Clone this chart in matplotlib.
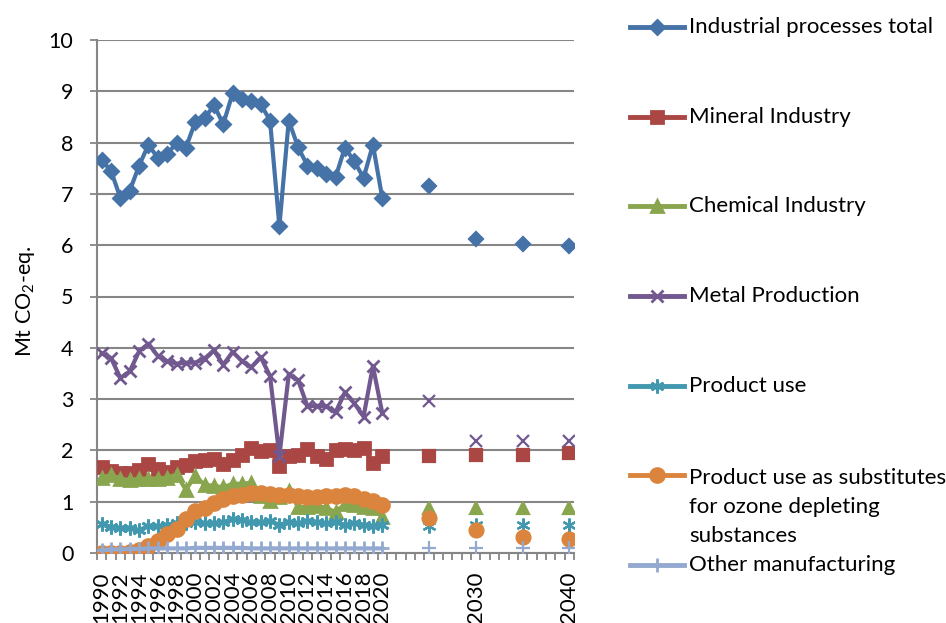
import numpy as np
import matplotlib.pyplot as plt
from matplotlib.lines import Line2D

plt.rcParams['font.family'] = ['Lato', 'DejaVu Sans']
plt.rcParams['mathtext.fontset'] = 'custom'
plt.rcParams['mathtext.rm'] = 'Lato'
plt.rcParams['mathtext.it'] = 'Lato:italic'

years = np.arange(1990, 2021)
proj_years = [2025, 2030, 2035, 2040]

total = [7.66, 7.45, 6.92, 7.06, 7.55, 7.96, 7.70, 7.78, 7.99, 7.90, 8.40,
         8.47, 8.73, 8.36, 8.96, 8.85, 8.82, 8.75, 8.43, 6.37, 8.43, 7.91,
         7.55, 7.50, 7.39, 7.32, 7.90, 7.64, 7.31, 7.96, 6.92]
total_proj = [7.15, 6.13, 6.02, 5.98]

mineral = [1.68, 1.60, 1.55, 1.55, 1.62, 1.73, 1.64, 1.58, 1.68, 1.71, 1.79,
           1.82, 1.84, 1.73, 1.81, 1.92, 2.04, 1.99, 2.00, 1.70, 1.90, 1.92,
           2.02, 1.90, 1.83, 2.00, 2.03, 2.00, 2.04, 1.76, 1.90]
mineral_proj = [1.90, 1.91, 1.92, 1.94]

chemical = [1.47, 1.52, 1.45, 1.42, 1.45, 1.45, 1.45, 1.47, 1.53, 1.23, 1.50,
            1.33, 1.31, 1.28, 1.35, 1.35, 1.37, 1.12, 1.02, 1.10, 1.20, 0.90,
            0.90, 0.92, 0.88, 0.80, 0.95, 0.93, 0.90, 0.88, 0.70]
chemical_proj = [0.88, 0.88, 0.88, 0.88]

metal = [3.89, 3.80, 3.41, 3.54, 3.93, 4.08, 3.84, 3.74, 3.69, 3.71, 3.71,
         3.79, 3.95, 3.67, 3.92, 3.74, 3.62, 3.82, 3.45, 1.89, 3.48, 3.37,
         2.86, 2.87, 2.86, 2.74, 3.13, 2.92, 2.66, 3.64, 2.73]
metal_proj = [2.97, 2.19, 2.19, 2.19]

product_use = [0.56, 0.51, 0.49, 0.49, 0.44, 0.53, 0.52, 0.55, 0.58, 0.58, 0.60,
               0.58, 0.58, 0.60, 0.66, 0.65, 0.60, 0.60, 0.62, 0.55, 0.60, 0.58,
               0.62, 0.60, 0.58, 0.60, 0.55, 0.58, 0.55, 0.52, 0.55]
product_use_proj = [0.53, 0.54, 0.54, 0.54]

ods = [0.00, 0.00, 0.00, 0.02, 0.06, 0.14, 0.23, 0.38, 0.46, 0.66, 0.82,
       0.88, 0.98, 1.05, 1.11, 1.14, 1.16, 1.16, 1.15, 1.14, 1.13, 1.12,
       1.10, 1.10, 1.11, 1.12, 1.14, 1.11, 1.05, 1.01, 0.93]
ods_proj = [0.69, 0.44, 0.31, 0.27]

other = [0.06, 0.07, 0.07, 0.08, 0.08, 0.09, 0.09, 0.09, 0.09, 0.09, 0.10,
         0.10, 0.10, 0.10, 0.10, 0.10, 0.09, 0.09, 0.09, 0.09, 0.09, 0.09,
         0.09, 0.09, 0.09, 0.09, 0.09, 0.09, 0.09, 0.09, 0.09]
other_proj = [0.09, 0.09, 0.09, 0.09]

labels = ['Industrial processes total', 'Mineral Industry', 'Chemical Industry',
          'Metal Production', 'Product use',
          'Product use as substitutes\nfor ozone depleting\nsubstances',
          'Other manufacturing']
colors = ['#4572A7', '#AA4643', '#89A54E', '#71588F', '#4198AF', '#DB843D', '#93A9CF']
markers = ['D', 's', '^', 'x', (6, 2, 0), 'o', '+']
msizes = [7, 8, 9, 9, 10, 10, 10]
hist = [total, mineral, chemical, metal, product_use, ods, other]
proj = [total_proj, mineral_proj, chemical_proj, metal_proj, product_use_proj,
        ods_proj, other_proj]

gray = '#868686'

fig = plt.figure(figsize=(9.46, 6.23), dpi=100)
ax = fig.add_axes([97 / 946, 70 / 623, 477 / 946, 513 / 623])

for i in range(len(labels)):
    ax.plot(years, hist[i], color=colors[i], lw=3, marker=markers[i],
            ms=msizes[i], mew=2, mec=colors[i], mfc=colors[i], zorder=3 + i)
    ax.plot(proj_years, proj[i], ls='none', color=colors[i], marker=markers[i],
            ms=msizes[i], mew=1.6, mec=colors[i], mfc=colors[i], zorder=3 + i)

ax.set_xlim(1989.5, 2040.5)
ax.set_ylim(0, 10)
ax.set_yticks(range(0, 11))
ax.grid(axis='y', color=gray, lw=1.5)
ax.set_axisbelow(True)

tick_years = list(range(1990, 2021, 2)) + [2030, 2040]
ax.set_xticks(tick_years)
ax.set_xticklabels([str(y) for y in tick_years], rotation=90)
ax.set_xticks(np.arange(1989.5, 2041, 1), minor=True)
ax.tick_params(axis='x', which='major', length=0, pad=13, labelsize=16)
ax.tick_params(axis='x', which='minor', length=5, width=1.3, color=gray)
ax.tick_params(axis='y', length=5, width=1.3, color=gray, pad=12, labelsize=15.5)

for side in ['top', 'right']:
    ax.spines[side].set_visible(False)
for side in ['left', 'bottom']:
    ax.spines[side].set_color(gray)
    ax.spines[side].set_linewidth(1.5)

ax.set_ylabel(r'Mt CO$_2$-eq.', fontsize=15.5)
ax.yaxis.set_label_coords(-0.126, 0.49)

# legend entries to the right, one slot per text line
slot_y = [27, 117, 206, 296, 386, 475, 565]
for i in range(len(labels)):
    yf = 1 - slot_y[i] / 623
    fig.add_artist(Line2D([630 / 946, 657 / 946, 684 / 946], [yf, yf, yf],
                          color=colors[i], lw=3.5, marker=markers[i], markevery=[1],
                          ms=msizes[i], mew=2, mec=colors[i], mfc=colors[i]))
    if '\n' in labels[i]:
        fig.text(689 / 946, 1 - (slot_y[i] - 7) / 623, labels[i], fontsize=16,
                 ha='left', va='top', linespacing=1.56)
    else:
        fig.text(689 / 946, yf, labels[i], fontsize=16, ha='left', va='center')

fig.savefig('out.png', dpi=100)
